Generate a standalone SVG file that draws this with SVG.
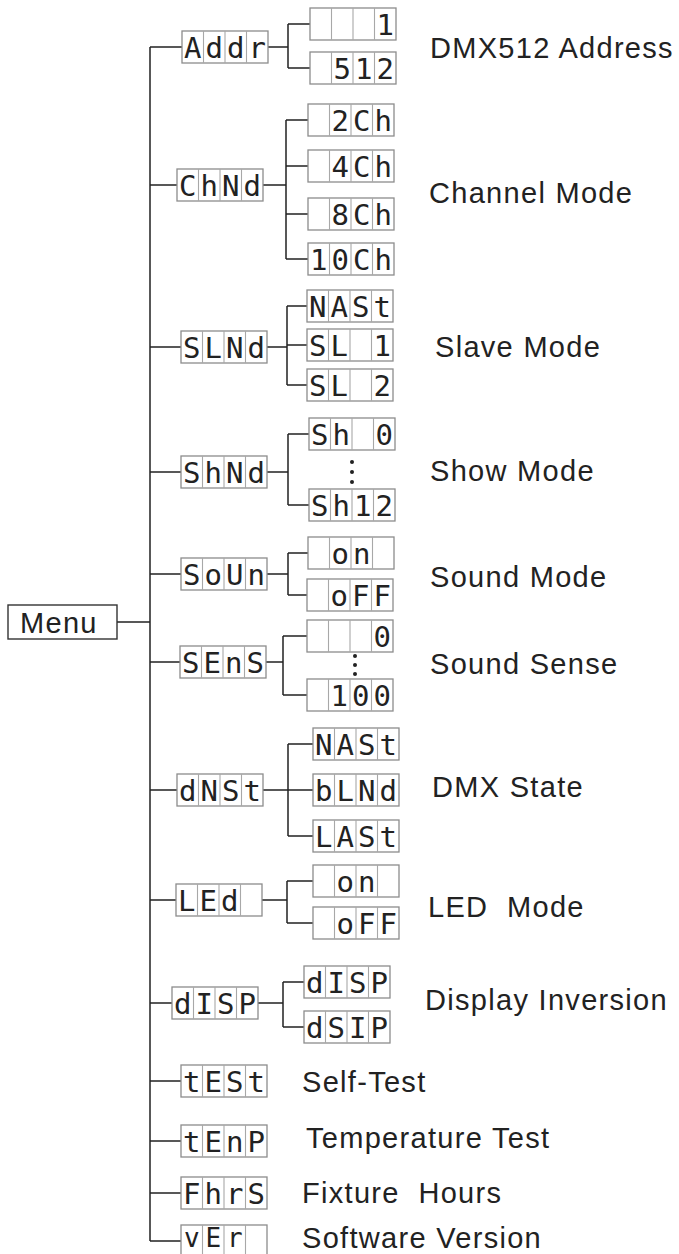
<svg xmlns="http://www.w3.org/2000/svg" xmlns:xlink="http://www.w3.org/1999/xlink" width="679" height="1254" viewBox="0 0 679 1254">
<style>
.frame{fill:#fff;stroke:#8c8c8c;stroke-width:1.3}
.div{fill:none;stroke:#a8a8a8;stroke-width:1.1}
.seg{font-family:"DejaVu Sans Mono","Liberation Mono",monospace;font-size:29px;fill:#222;text-anchor:middle}
.lbl{font-family:"Liberation Sans",Arial,sans-serif;font-size:29px;letter-spacing:1.3px;fill:#222}
.ln{fill:none;stroke:#222;stroke-width:1.5}
.dot{fill:#222}
</style>
<defs>
<g id="disp"><rect x="0" y="0" width="86" height="32" class="frame"/><path d="M21.5 0V32M43 0V32M64.5 0V32" class="div"/></g>
</defs>
<rect width="679" height="1254" fill="#fff"/>

<g id="connectors">
<path class="ln" d="M117 622H150M150 47V1241"/>
<path class="ln" d="M150 47H182M150 185H177M150 347H181M150 472H181M150 574H181M150 662H180M150 790H177M150 900H176M150 1003H172M150 1081H181M150 1141H181M150 1193H181M150 1241H181"/>
<path class="ln" d="M268 47H288M288 24V68M288 24H310M288 68H310"/>
<path class="ln" d="M263 185H286M286 120V259M286 120H308M286 166H308M286 214H308M286 259H308"/>
<path class="ln" d="M267 347H287M287 306V385M287 306H307M287 345H307M287 385H307"/>
<path class="ln" d="M267 472H288M288 434V505M288 434H309M288 505H309"/>
<path class="ln" d="M267 574H288M288 553V595M288 553H308M288 595H307"/>
<path class="ln" d="M266 662H283M283 636V695M283 636H307M283 695H307"/>
<path class="ln" d="M263 790H288M288 744V836M288 744H313M288 790H313M288 836H313"/>
<path class="ln" d="M262 900H287M287 881V923M287 881H313M287 923H313"/>
<path class="ln" d="M258 1003H283M283 982V1027M283 982H304M283 1027H304"/>
<circle class="dot" cx="352" cy="462" r="2"/><circle class="dot" cx="352" cy="472" r="2"/><circle class="dot" cx="352" cy="482" r="2"/>
<circle class="dot" cx="355" cy="656" r="2"/><circle class="dot" cx="355" cy="665" r="2"/><circle class="dot" cx="355" cy="674" r="2"/>
</g>

<g id="menu"><rect x="8" y="605" width="109" height="34" fill="#fff" stroke="#333" stroke-width="1.4"/><text class="lbl" x="20" y="633">Menu</text></g>

<g id="addr" transform="translate(182,31)"><use xlink:href="#disp"/><text class="seg" x="10.75 32.25 53.75 75.25" y="27">Addr</text></g>
<g id="addr-1" transform="translate(310,8)"><use xlink:href="#disp"/><text class="seg" x="75.25" y="27">1</text></g>
<g id="addr-512" transform="translate(310,52)"><use xlink:href="#disp"/><text class="seg" x="32.25 53.75 75.25" y="27">512</text></g>

<g id="chmd" transform="translate(177,169)"><use xlink:href="#disp"/><text class="seg" x="10.75 32.25 53.75 75.25" y="27">ChNd</text></g>
<g id="ch2" transform="translate(308,104)"><use xlink:href="#disp"/><text class="seg" x="32.25 53.75 75.25" y="27">2Ch</text></g>
<g id="ch4" transform="translate(308,150)"><use xlink:href="#disp"/><text class="seg" x="32.25 53.75 75.25" y="27">4Ch</text></g>
<g id="ch8" transform="translate(308,198)"><use xlink:href="#disp"/><text class="seg" x="32.25 53.75 75.25" y="27">8Ch</text></g>
<g id="ch10" transform="translate(308,243)"><use xlink:href="#disp"/><text class="seg" x="10.75 32.25 53.75 75.25" y="27">10Ch</text></g>

<g id="slmd" transform="translate(181,331)"><use xlink:href="#disp"/><text class="seg" x="10.75 32.25 53.75 75.25" y="27">SLNd</text></g>
<g id="slmd-mast" transform="translate(307,290)"><use xlink:href="#disp"/><text class="seg" x="10.75 32.25 53.75 75.25" y="27">NASt</text></g>
<g id="slmd-sl1" transform="translate(307,329)"><use xlink:href="#disp"/><text class="seg" x="10.75 32.25 53.75 75.25" y="27">SL 1</text></g>
<g id="slmd-sl2" transform="translate(307,369)"><use xlink:href="#disp"/><text class="seg" x="10.75 32.25 53.75 75.25" y="27">SL 2</text></g>

<g id="shmd" transform="translate(181,456)"><use xlink:href="#disp"/><text class="seg" x="10.75 32.25 53.75 75.25" y="27">ShNd</text></g>
<g id="sh0" transform="translate(309,418)"><use xlink:href="#disp"/><text class="seg" x="10.75 32.25 53.75 75.25" y="27">Sh 0</text></g>
<g id="sh12" transform="translate(309,489)"><use xlink:href="#disp"/><text class="seg" x="10.75 32.25 53.75 75.25" y="27">Sh12</text></g>

<g id="soun" transform="translate(181,558)"><use xlink:href="#disp"/><text class="seg" x="10.75 32.25 53.75 75.25" y="27">SoUn</text></g>
<g id="soun-on" transform="translate(308,537)"><use xlink:href="#disp"/><text class="seg" x="32.25 53.75" y="27">on</text></g>
<g id="soun-off" transform="translate(307,579)"><use xlink:href="#disp"/><text class="seg" x="32.25 53.75 75.25" y="27">oFF</text></g>

<g id="sens" transform="translate(180,646)"><use xlink:href="#disp"/><text class="seg" x="10.75 32.25 53.75 75.25" y="27">SEnS</text></g>
<g id="sens-0" transform="translate(307,620)"><use xlink:href="#disp"/><text class="seg" x="75.25" y="27">0</text></g>
<g id="sens-100" transform="translate(307,679)"><use xlink:href="#disp"/><text class="seg" x="32.25 53.75 75.25" y="27">100</text></g>

<g id="dmst" transform="translate(177,774)"><use xlink:href="#disp"/><text class="seg" x="10.75 32.25 53.75 75.25" y="27">dNSt</text></g>
<g id="dmst-mast" transform="translate(313,728)"><use xlink:href="#disp"/><text class="seg" x="10.75 32.25 53.75 75.25" y="27">NASt</text></g>
<g id="dmst-blnd" transform="translate(313,774)"><use xlink:href="#disp"/><text class="seg" x="10.75 32.25 53.75 75.25" y="27">bLNd</text></g>
<g id="dmst-last" transform="translate(313,820)"><use xlink:href="#disp"/><text class="seg" x="10.75 32.25 53.75 75.25" y="27">LASt</text></g>

<g id="led" transform="translate(176,884)"><use xlink:href="#disp"/><text class="seg" x="10.75 32.25 53.75" y="27">LEd</text></g>
<g id="led-on" transform="translate(313,865)"><use xlink:href="#disp"/><text class="seg" x="32.25 53.75" y="27">on</text></g>
<g id="led-off" transform="translate(313,907)"><use xlink:href="#disp"/><text class="seg" x="32.25 53.75 75.25" y="27">oFF</text></g>

<g id="disp-main" transform="translate(172,987)"><use xlink:href="#disp"/><text class="seg" x="10.75 32.25 53.75 75.25" y="27">dISP</text></g>
<g id="disp-disp" transform="translate(304,966)"><use xlink:href="#disp"/><text class="seg" x="10.75 32.25 53.75 75.25" y="27">dISP</text></g>
<g id="disp-dsip" transform="translate(304,1011)"><use xlink:href="#disp"/><text class="seg" x="10.75 32.25 53.75 75.25" y="27">dSIP</text></g>

<g id="test" transform="translate(181,1065)"><use xlink:href="#disp"/><text class="seg" x="10.75 32.25 53.75 75.25" y="27">tESt</text></g>
<g id="temp" transform="translate(181,1125)"><use xlink:href="#disp"/><text class="seg" x="10.75 32.25 53.75 75.25" y="27">tEnP</text></g>
<g id="fhrs" transform="translate(181,1177)"><use xlink:href="#disp"/><text class="seg" x="10.75 32.25 53.75 75.25" y="27">FhrS</text></g>
<g id="ver" transform="translate(181,1225)"><use xlink:href="#disp"/><text class="seg" x="10.75 32.25 53.75" y="22" style="font-size:26px">vEr</text></g>

<g id="labels">
<text class="lbl" x="430" y="58">DMX512 Address</text>
<text class="lbl" x="429" y="203">Channel Mode</text>
<text class="lbl" x="435" y="357">Slave Mode</text>
<text class="lbl" x="430" y="481">Show Mode</text>
<text class="lbl" x="430" y="587">Sound Mode</text>
<text class="lbl" x="430" y="674">Sound Sense</text>
<text class="lbl" x="432" y="797">DMX State</text>
<text class="lbl" x="428" y="917" xml:space="preserve">LED  Mode</text>
<text class="lbl" x="425" y="1010">Display Inversion</text>
<text class="lbl" x="302" y="1092">Self-Test</text>
<text class="lbl" x="306" y="1148">Temperature Test</text>
<text class="lbl" x="302" y="1203" xml:space="preserve">Fixture  Hours</text>
<text class="lbl" x="302" y="1248">Software Version</text>
</g>
</svg>
